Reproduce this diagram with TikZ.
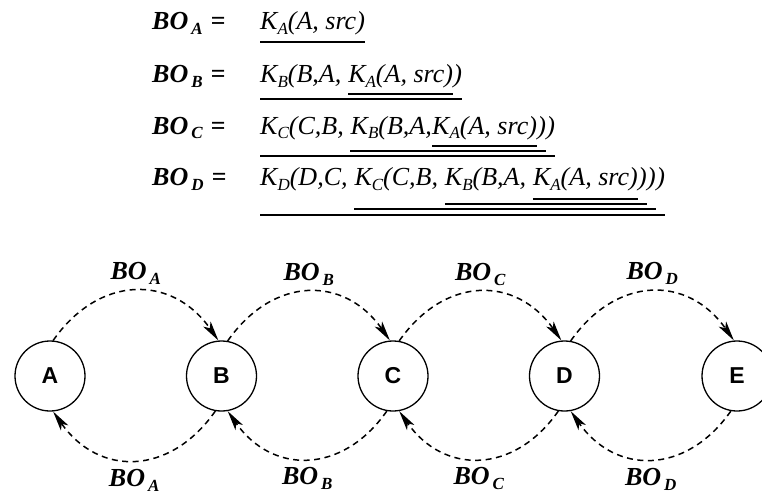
\documentclass[tikz,border=0pt]{standalone}
\usepackage{fontspec}
\setmainfont{Liberation Serif}
\newfontfamily\stationfont{Liberation Sans}
\usetikzlibrary{arrows.meta, positioning}

\newcommand{\lowsub}[1]{\raisebox{-5pt}{\fontsize{17}{17}\selectfont #1}}
\newcommand{\bolab}[1]{BO\hspace{3pt}\lowsub{#1}}

\tikzset{
    ftext/.style={anchor=base west, inner sep=0pt, font=\fontsize{26}{30}\selectfont\itshape},
    eqlab/.style={anchor=base west, inner sep=0pt, font=\fontsize{26}{30}\selectfont\bfseries\itshape},
    station/.style={circle, draw, line width=1.3pt, minimum size=70pt, inner sep=0pt,
    font=\stationfont\bfseries\fontsize{23}{23}\selectfont},
    blab/.style={inner sep=0pt, font=\fontsize{26}{30}\selectfont\bfseries\itshape},
    uline/.style={line width=1.3pt},
    hop/.style={dash pattern=on 6pt off 4.5pt, line width=1.5pt,
    -{Stealth[length=20pt, width=9pt, inset=5pt]}, looseness=1.25},
}

\begin{document}
\begin{tikzpicture}[x=1pt, y=1pt]

\useasboundingbox (0,0) rectangle (762,-500);

% =========================================================
% Formulas
% =========================================================

% BO_A
        \node[eqlab] (eqA) at (152,-30) {\bolab{A}\hspace{8pt}=};
        \node[ftext] (a1) at (260,-30) {K\lowsub{A}(A, src)};
        \draw[uline] ([yshift=-12pt]a1.base west) -- ([yshift=-12pt]a1.base east);

% BO_B
        \node[eqlab] (eqB) at (152,-83) {\bolab{B}\hspace{8pt}=};
        \node[ftext] (b1) at (260,-83) {K\lowsub{B}(B,A,};
        \node[ftext] (b2) at ([xshift=6.5pt]b1.base east) {K\lowsub{A}(A, src)};
        \node[ftext] (b3) at (b2.base east) {)};
        \draw[uline] ([yshift=-11pt]b2.base west) -- ([yshift=-11pt]b2.base east);
        \draw[uline] ([yshift=-16pt]b1.base west) -- ([yshift=-16pt]b3.base east);

% BO_C
        \node[eqlab] (eqC) at (152,-134) {\bolab{C}\hspace{8pt}=};
        \node[ftext] (c1) at (260,-134) {K\lowsub{C}(C,B,};
        \node[ftext] (c2) at ([xshift=6.5pt]c1.base east) {K\lowsub{B}(B,A,};
        \node[ftext] (c3) at (c2.base east) {K\lowsub{A}(A, src)};
        \node[ftext] (c4) at (c3.base east) {)};
        \node[ftext] (c5) at (c4.base east) {)};
        \draw[uline] ([yshift=-12pt]c3.base west) -- ([yshift=-12pt]c3.base east);
        \draw[uline] ([yshift=-17pt]c2.base west) -- ([yshift=-17pt]c4.base east);
        \draw[uline] ([yshift=-22pt]c1.base west) -- ([yshift=-22pt]c5.base east);

% BO_D
        \node[eqlab] (eqD) at (152,-185) {\bolab{D}\hspace{8pt}=};
        \node[ftext] (d1) at (260,-185) {K\lowsub{D}(D,C,};
        \node[ftext] (d2) at ([xshift=6.5pt]d1.base east) {K\lowsub{C}(C,B,};
        \node[ftext] (d3) at ([xshift=6.5pt]d2.base east) {K\lowsub{B}(B,A,};
        \node[ftext] (d4) at ([xshift=6.5pt]d3.base east) {K\lowsub{A}(A, src)};
        \node[ftext] (d5) at (d4.base east) {)};
        \node[ftext] (d6) at (d5.base east) {)};
        \node[ftext] (d7) at (d6.base east) {)};
        \draw[uline] ([yshift=-14pt]d4.base west) -- ([yshift=-14pt]d4.base east);
        \draw[uline] ([yshift=-19pt]d3.base west) -- ([yshift=-19pt]d5.base east);
        \draw[uline] ([yshift=-24pt]d2.base west) -- ([yshift=-24pt]d6.base east);
        \draw[uline] ([yshift=-30pt]d1.base west) -- ([yshift=-30pt]d7.base east);

% =========================================================
% Stations and hops
% =========================================================

        \node[station] (A) at (50,-376)    {A};
        \node[station] (B) at (221.5,-376) {B};
        \node[station] (C) at (393,-376)   {C};
        \node[station] (D) at (564.5,-376) {D};
        \node[station] (E) at (737,-376)   {E};

% forward, over the top
        \draw[hop] (A.85) to[out=55,in=125] node[blab, above=6pt] (tA) {\bolab{A}} (B.95);
        \draw[hop] (B.80) to[out=55,in=125] node[blab, above=6pt] (tB) {\bolab{B}} (C.95);
        \draw[hop] (C.80) to[out=55,in=125] node[blab, above=6pt] (tC) {\bolab{C}} (D.95);
        \draw[hop] (D.80) to[out=55,in=125] node[blab, above=6pt] (tD) {\bolab{D}} (E.95);

% back, underneath
        \draw[hop] (B.-100) to[out=-125,in=-55] node[blab, below=8pt] (uA) {\bolab{A}} (A.-85);
        \draw[hop] (C.-100) to[out=-125,in=-55] node[blab, below=8pt] (uB) {\bolab{B}} (B.-80);
        \draw[hop] (D.-100) to[out=-125,in=-55] node[blab, below=8pt] (uC) {\bolab{C}} (C.-80);
        \draw[hop] (E.-100) to[out=-125,in=-55] node[blab, below=8pt] (uD) {\bolab{D}} (D.-80);

\end{tikzpicture}
\end{document}
